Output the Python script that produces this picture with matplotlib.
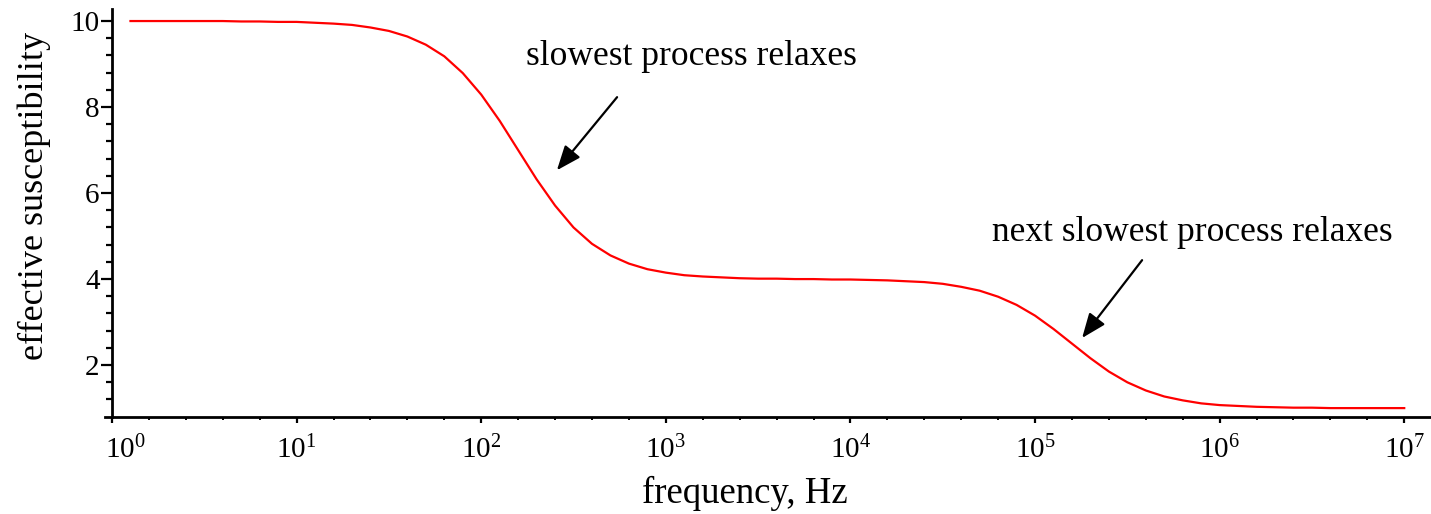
import matplotlib
matplotlib.use("Agg")
import matplotlib.pyplot as plt
from matplotlib.ticker import FixedLocator, NullFormatter, FixedFormatter
import matplotlib.transforms as mtransforms

# ---- data ----
log_freq = [0.1, 0.2, 0.3, 0.4, 0.5, 0.6, 0.7, 0.8, 0.9, 1.0,
            1.1, 1.2, 1.3, 1.4, 1.5, 1.6, 1.7, 1.8, 1.9, 2.0,
            2.1, 2.2, 2.3, 2.4, 2.5, 2.6, 2.7, 2.8, 2.9, 3.0,
            3.1, 3.2, 3.3, 3.4, 3.5, 3.6, 3.7, 3.8, 3.9, 4.0,
            4.1, 4.2, 4.3, 4.4, 4.5, 4.6, 4.7, 4.8, 4.9, 5.0,
            5.1, 5.2, 5.3, 5.4, 5.5, 5.6, 5.7, 5.8, 5.9, 6.0,
            6.1, 6.2, 6.3, 6.4, 6.5, 6.6, 6.7, 6.8, 6.9, 7.0]
susceptibility = [10.00, 10.00, 10.00, 10.00, 10.00, 10.00, 9.99, 9.99, 9.98, 9.98,
                  9.96, 9.94, 9.91, 9.85, 9.77, 9.64, 9.45, 9.18, 8.79, 8.29,
                  7.68, 7.00, 6.32, 5.71, 5.20, 4.82, 4.55, 4.36, 4.23, 4.15,
                  4.09, 4.06, 4.04, 4.02, 4.01, 4.01, 4.00, 4.00, 3.99, 3.99,
                  3.98, 3.97, 3.95, 3.93, 3.89, 3.82, 3.73, 3.59, 3.40, 3.15,
                  2.84, 2.50, 2.16, 1.85, 1.60, 1.41, 1.27, 1.18, 1.11, 1.07,
                  1.05, 1.03, 1.02, 1.01, 1.01, 1.00, 1.00, 1.00, 1.00, 1.00]
freq = [10 ** v for v in log_freq]

x_major_exp = [0, 1, 2, 3, 4, 5, 6, 7]
x_tick_labels = [r"$\mathregular{10^{%d}}$" % e for e in x_major_exp]
y_major = [2, 4, 6, 8, 10]
y_tick_labels = ["2", "4", "6", "8", "10"]

annot1_text = "slowest process relaxes"
annot2_text = "next slowest process relaxes"

# ---- styling ----
plt.rcParams["font.family"] = ["Liberation Serif", "DejaVu Serif"]
plt.rcParams["mathtext.fontset"] = "custom"
plt.rcParams["mathtext.rm"] = "Liberation Serif"
plt.rcParams["mathtext.it"] = "Liberation Serif:italic"

W, H = 1431, 514
fig = plt.figure(figsize=(W / 100, H / 100), dpi=100)
ax_left, ax_right = 105, 1431
ax_top, ax_bottom = 9, 416.7
ax = fig.add_axes([ax_left / W, 1 - ax_bottom / H,
                   (ax_right - ax_left) / W, (ax_bottom - ax_top) / H])

ax.plot(freq, susceptibility, color="#ff0000", lw=1.6, zorder=3)

ax.set_xscale("log")
ax.set_xlim(10 ** -0.038, 10 ** 7.145)
ax.set_ylim(0.8, 10.28)

for s in ["top", "right"]:
    ax.spines[s].set_visible(False)
ax.spines["left"].set_position(("data", 1.0))
ax.spines["left"].set_linewidth(2.0)
ax.spines["bottom"].set_linewidth(2.0)

# x ticks
ax.xaxis.set_major_locator(FixedLocator([10 ** e for e in x_major_exp]))
ax.xaxis.set_major_formatter(FixedFormatter(x_tick_labels))
minor_x = []
for e in x_major_exp[:-1]:
    for j in range(1, 5):
        minor_x.append(10 ** (e + 0.2 * j))
ax.xaxis.set_minor_locator(FixedLocator(minor_x))
ax.xaxis.set_minor_formatter(NullFormatter())
ax.tick_params(axis="x", which="major", direction="out", length=4, width=1.6,
               labelsize=21, pad=10)
ax.tick_params(axis="x", which="minor", direction="out", length=2.5, width=1.4)

# shift the first x label a little to the right (as in the reference)
lbls = ax.get_xticklabels()
offset = mtransforms.ScaledTranslation(13 / 100, 0, fig.dpi_scale_trans)
lbls[0].set_transform(lbls[0].get_transform() + offset)

# y ticks
ax.yaxis.set_major_locator(FixedLocator(y_major))
ax.yaxis.set_major_formatter(FixedFormatter(y_tick_labels))
ax.yaxis.set_minor_locator(FixedLocator([1.2, 1.6, 2.4, 2.8, 3.2, 3.6, 4.4, 4.8,
                                         5.2, 5.6, 6.4, 6.8, 7.2, 7.6, 8.4, 8.8,
                                         9.2, 9.6]))
ax.tick_params(axis="y", which="major", direction="out", length=8, width=1.6,
               labelsize=21, pad=1)
ax.tick_params(axis="y", which="minor", direction="out", length=4, width=1.6)

# axis labels
ylab = ax.set_ylabel("effective susceptibility", fontsize=26)
ax.yaxis.set_label_coords((34 - ax_left) / (ax_right - ax_left),
                          (ax_bottom - 196) / (ax_bottom - ax_top))
ylab.set_va("center")
xlab = ax.set_xlabel("frequency, Hz", fontsize=26.5)
ax.xaxis.set_label_coords((745 - ax_left) / (ax_right - ax_left),
                          (ax_bottom - 503) / (ax_bottom - ax_top))
xlab.set_va("baseline")

arrow_kw = dict(arrowstyle="-|>,head_length=0.75,head_width=0.3",
                mutation_scale=20, color="black", lw=1.6,
                shrinkA=0, shrinkB=0)
ax.annotate("", xy=(10 ** 2.41, 6.53), xytext=(10 ** 2.736, 8.23),
            arrowprops=arrow_kw)
ax.text(10 ** 3.14, 8.98, annot1_text, fontsize=25.5, ha="center", va="baseline")

ax.annotate("", xy=(10 ** 5.255, 2.63), xytext=(10 ** 5.58, 4.44),
            arrowprops=arrow_kw)
ax.text(10 ** 5.85, 4.89, annot2_text, fontsize=25.5, ha="center", va="baseline")

fig.savefig("out.png", dpi=100)
